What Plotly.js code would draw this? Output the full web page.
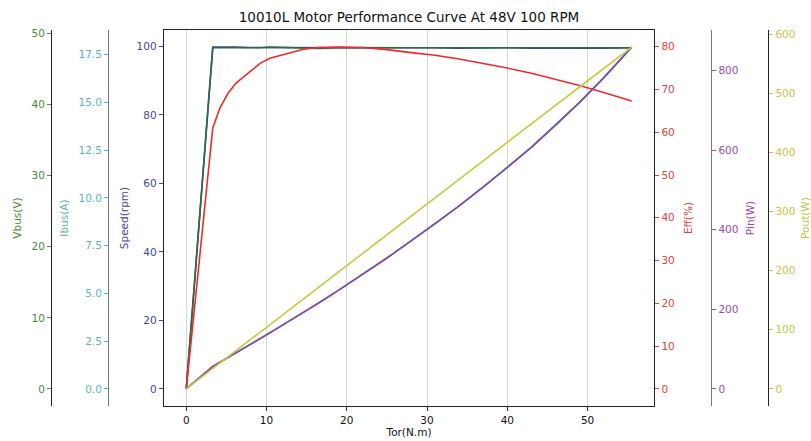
<!DOCTYPE html>
<html>
<head>
<meta charset="utf-8">
<script src="https://cdn.plot.ly/plotly-3.0.1.min.js"></script>
<style>html,body{margin:0;padding:0;background:#fff;}#chart{width:811px;height:441px;}</style>
</head>
<body>
<div id="chart"></div>
<script>
// Torque (N.m)
const torque = [0, 3.3, 4.2, 5.2, 6.2, 7.9, 9.2, 10.4, 12.5, 14.6, 16.5, 19.0, 22.0, 25.0, 28.0, 31.0, 34.0, 37.0, 40.0, 43.0, 46.0, 49.0, 52.0, 55.5];
// Bus voltage (V)
const vbus = [0, 48.0, 48.0, 48.0, 47.9, 48.0, 48.0, 48.1, 48.0, 48.0, 47.9, 48.0, 48.0, 48.0, 48.0, 47.9, 48.0, 48.0, 48.0, 47.9, 48.0, 48.0, 47.9, 48.0];
// Bus current (A)
const ibus = [0, 1.18, 1.40, 1.64, 1.89, 2.32, 2.63, 2.93, 3.47, 4.00, 4.50, 5.17, 5.99, 6.85, 7.75, 8.64, 9.58, 10.56, 11.58, 12.65, 13.80, 15.00, 16.28, 17.89];
// Speed (rpm)
const speed = [0, 99.8, 99.8, 99.7, 99.8, 99.7, 99.7, 99.8, 99.7, 99.7, 99.6, 99.7, 99.6, 99.6, 99.7, 99.6, 99.5, 99.6, 99.6, 99.5, 99.6, 99.5, 99.5, 99.6];
// Efficiency (%)
const eff = [0, 61.0, 65.7, 69.1, 71.5, 74.2, 76.1, 77.3, 78.4, 79.4, 79.8, 79.9, 79.8, 79.3, 78.6, 78.0, 77.1, 76.1, 75.0, 73.8, 72.4, 70.9, 69.3, 67.3];
// Input power (W)
const pin = [0, 56.6, 67.0, 78.6, 90.5, 111.2, 126.2, 140.5, 166.5, 192.0, 215.8, 248.2, 287.6, 328.9, 371.8, 414.7, 459.8, 507.0, 556.0, 607.0, 662.3, 720.0, 781.4, 858.8];
// Output power (W)
const pout = [0, 34.5, 44.0, 54.3, 64.7, 82.5, 96.0, 108.6, 130.5, 152.4, 172.2, 198.3, 229.5, 260.8, 292.2, 323.5, 354.5, 385.8, 417.0, 448.0, 479.5, 510.5, 541.5, 578.0];

const titleText = '10010L Motor Performance Curve At 48V 100 RPM';
const xTitle = 'Tor(N.m)';
const axisNames = {speed:'Speed(rpm)', vbus:'Vbus(V)', ibus:'Ibus(A)', eff:'Eff(%)', pin:'Pin(W)', pout:'Pout(W)'};

function padRange(arr){
  const mn = Math.min(...arr), mx = Math.max(...arr);
  const p = (mx - mn) * 0.05;
  return [mn - p, mx + p];
}

const W = 811;
const FONT = 'DejaVu Sans, sans-serif';
const C = {
  vbusT:'#4a8a3c', vbusL:'#2c6b3c',
  ibusT:'#5ab5ad', ibusL:'#3aa8a0',
  speedT:'#4646a0', speedL:'#3b3bb0',
  effT:'#e0443a', effL:'#ee2a2a',
  pinT:'#9a4c9e', pinL:'#8a45a8',
  poutT:'#c4c44a', poutL:'#c6c83e'
};

const lw = 1.6;
const traces = [
  {x: torque, y: speed, yaxis:'y', name:axisNames.speed, mode:'lines', line:{color:C.speedL, width:lw}},
  {x: torque, y: vbus, yaxis:'y2', name:axisNames.vbus, mode:'lines', line:{color:C.vbusL, width:lw}},
  {x: torque, y: ibus, yaxis:'y3', name:axisNames.ibus, mode:'lines', line:{color:C.ibusL, width:lw}},
  {x: torque, y: eff, yaxis:'y4', name:axisNames.eff, mode:'lines', line:{color:C.effL, width:lw}},
  {x: torque, y: pin, yaxis:'y5', name:axisNames.pin, mode:'lines', line:{color:C.pinL, width:lw}},
  {x: torque, y: pout, yaxis:'y6', name:axisNames.pout, mode:'lines', line:{color:C.poutL, width:lw}}
];

const tickFont = (c) => ({family:FONT, size:10.5, color:c});

function freeAxis(title, col, range, dtick, side, posPx, lineColor, fmt, standoff){
  return {
    title:{text:title, font:{family:FONT, size:10.5, color:col}, standoff:standoff},
    range: range, dtick: dtick, tick0: 0, tickformat: fmt || '',
    tickfont: tickFont(col), tickcolor: col, ticks:'outside', ticklen:4, tickwidth:1,
    showgrid:false, zeroline:false, showline:true, linecolor:lineColor, linewidth:1.3,
    overlaying:'y', anchor:'free', side: side, position: posPx / W, automargin:false
  };
}

const x0 = 164, x1 = 654;
const layout = {
  width: 811, height: 441,
  margin:{l:0, r:0, t:30, b:35, autoexpand:false},
  paper_bgcolor:'#ffffff', plot_bgcolor:'#ffffff',
  showlegend:false,
  title:{text:titleText, font:{family:FONT, size:13.5, color:'#111'}, x:(x0+x1)/2/W, xanchor:'center', y:1-17/441, yanchor:'middle'},
  xaxis:{
    domain:[x0/W, x1/W], range: padRange(torque), dtick:10, tick0:0,
    title:{text:xTitle, font:{family:FONT, size:10.5, color:'#111'}, standoff:2},
    tickfont: tickFont('#111'), ticks:'outside', ticklen:4, tickcolor:'#333',
    showgrid:true, gridcolor:'#d6d6d6', gridwidth:1, zeroline:false,
    showline:true, mirror:true, linecolor:'#222', linewidth:1.3, automargin:false
  },
  yaxis:{
    title:{text:axisNames.speed, font:{family:FONT, size:10.5, color:C.speedT}, standoff:6},
    range: padRange(speed), dtick:20, tick0:0,
    tickfont: tickFont(C.speedT), tickcolor:C.speedT, ticks:'outside', ticklen:4,
    showgrid:false, zeroline:false, showline:true, mirror:true, linecolor:'#222', linewidth:1.3,
    automargin:false
  },
  yaxis2: freeAxis(axisNames.vbus, C.vbusT, padRange(vbus), 10, 'left', 51, '#222', '', 6),
  yaxis3: freeAxis(axisNames.ibus, C.ibusT, padRange(ibus), 2.5, 'left', 108, '#777', '.1f', 6),
  yaxis4: freeAxis(axisNames.eff, C.effT, padRange(eff), 10, 'right', x1, '#222', '', 11),
  yaxis5: freeAxis(axisNames.pin, C.pinT, padRange(pin), 200, 'right', 711, '#777', '', 9),
  yaxis6: freeAxis(axisNames.pout, C.poutT, padRange(pout), 100, 'right', 768, '#222', '', 10)
};

Plotly.newPlot('chart', traces, layout, {displayModeBar:false, staticPlot:true});
</script>
</body>
</html>
